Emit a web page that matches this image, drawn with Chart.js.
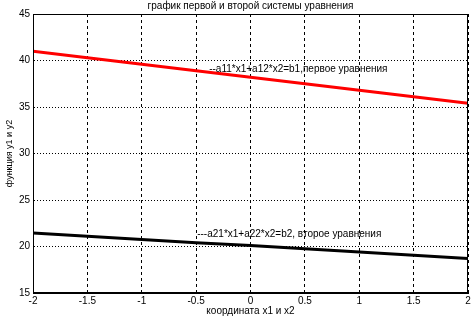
<!DOCTYPE html>
<html>
<head>
<meta charset="utf-8">
<script src="https://cdn.jsdelivr.net/npm/chart.js@4.4.1/dist/chart.umd.min.js"></script>
<style>
  html, body { margin: 0; padding: 0; background: #fff; }
  #wrap { width: 475px; height: 318px; position: relative; }
</style>
</head>
<body>
<div id="wrap"><canvas id="eq-chart"></canvas></div>
<script>
// values
const xValues = [-2, -1.5, -1, -0.5, 0, 0.5, 1, 1.5, 2];
const firstEquation = [41.0, 40.3, 39.6, 38.9, 38.2, 37.5, 36.8, 36.1, 35.4];
const secondEquation = [21.45, 21.1, 20.75, 20.4, 20.1, 19.75, 19.4, 19.05, 18.7];
const xTicks = [-2, -1.5, -1, -0.5, 0, 0.5, 1, 1.5, 2];
const yTicks = [15, 20, 25, 30, 35, 40, 45];

const labelNotes = [
  { x: -0.38, y: 39.1, text: '--a11*x1+a12*x2=b1,первое уравнения' },
  { x: -0.49, y: 21.35, text: '---a21*x1+a22*x2=b2, второе уравнения' },
];

const font = 'Liberation Sans, Arial, sans-serif';

const frameAndNotes = {
  id: 'frameAndNotes',
  afterDatasetsDraw(chart) {
    const { ctx, chartArea, scales } = chart;
    ctx.save();
    ctx.font = `10px ${font}`;
    ctx.fillStyle = '#000';
    ctx.textBaseline = 'middle';
    ctx.textAlign = 'left';
    for (const note of labelNotes) {
      ctx.fillText(note.text, scales.x.getPixelForValue(note.x), scales.y.getPixelForValue(note.y));
    }
    ctx.strokeStyle = '#000';
    ctx.lineWidth = 1;
    ctx.strokeRect(chartArea.left + 0.5, chartArea.top + 0.5, chartArea.width - 1, chartArea.height - 1);
    ctx.restore();
  }
};

const ctx = document.getElementById('eq-chart').getContext('2d');
new Chart(ctx, {
  type: 'line',
  data: {
    datasets: [
      {
        label: 'первое уравнение',
        data: xValues.map((x, i) => ({ x, y: firstEquation[i] })),
        borderColor: '#ff0000',
        borderWidth: 3,
        pointRadius: 0,
        tension: 0,
      },
      {
        label: 'второе уравнение',
        data: xValues.map((x, i) => ({ x, y: secondEquation[i] })),
        borderColor: '#000000',
        borderWidth: 3,
        pointRadius: 0,
        tension: 0,
      },
    ],
  },
  options: {
    responsive: true,
    maintainAspectRatio: false,
    animation: false,
    layout: { padding: { top: 0, right: 7, left: 0, bottom: 0 } },
    plugins: {
      legend: { display: false },
      tooltip: { enabled: false },
      title: {
        display: true,
        fullSize: false,
        text: 'график первой и второй системы уравнения',
        color: '#000',
        font: { family: font, size: 10, weight: 'normal', lineHeight: 1.2 },
        padding: { top: 0, bottom: 2 },
      },
    },
    scales: {
      x: {
        type: 'linear',
        min: -2,
        max: 2,
        afterFit: (scale) => { scale.height = 25; },
        afterBuildTicks: (scale) => { scale.ticks = xTicks.map((v) => ({ value: v })); },
        ticks: {
          color: '#000',
          padding: 2,
          maxRotation: 0,
          font: { family: font, size: 10 },
          callback: (v) => String(v),
        },
        grid: { color: '#000', drawTicks: false, lineWidth: 1 },
        border: { display: true, color: '#000', dash: [3, 3] },
        title: {
          display: true,
          text: 'координата x1 и x2',
          color: '#000',
          font: { family: font, size: 10, lineHeight: 1.2 },
          padding: { top: 0, bottom: 1 },
        },
      },
      y: {
        min: 15,
        max: 45,
        afterFit: (scale) => { scale.width = 33; },
        afterBuildTicks: (scale) => { scale.ticks = yTicks.map((v) => ({ value: v })); },
        ticks: {
          color: '#000',
          padding: 3,
          font: { family: font, size: 10 },
        },
        grid: { color: '#000', drawTicks: false, lineWidth: 1 },
        border: { display: true, color: '#000', dash: [1, 2] },
        title: {
          display: true,
          text: 'функция y1 и y2',
          color: '#000',
          font: { family: font, size: 9, lineHeight: 1.2 },
          padding: { top: 4, bottom: 0 },
        },
      },
    },
  },
  plugins: [frameAndNotes],
});
</script>
</body>
</html>
